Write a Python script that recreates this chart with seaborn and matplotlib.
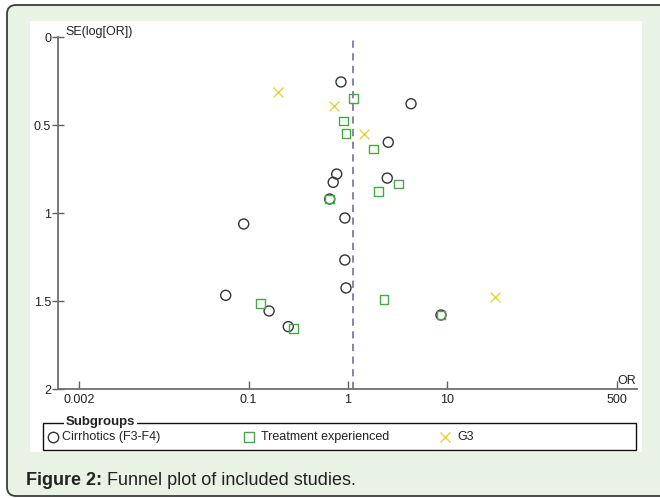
import pandas as pd
import matplotlib.pyplot as plt
from matplotlib.patches import FancyBboxPatch, Rectangle
from matplotlib.lines import Line2D
import seaborn as sb

# DATOS: OR y SE(log[OR]) por subgrupo
cirr_or = [0.85, 4.3, 2.54, 0.77, 2.48, 0.71, 0.655, 0.93, 0.0895, 0.93, 0.955, 0.059, 0.161, 0.251, 8.6]
cirr_se = [0.253, 0.377, 0.596, 0.777, 0.80, 0.824, 0.919, 1.027, 1.061, 1.266, 1.425, 1.467, 1.556, 1.645, 1.579]

treat_or = [1.14, 0.90, 0.955, 1.81, 3.23, 2.03, 0.655, 2.30, 0.133, 0.282, 8.6]
treat_se = [0.346, 0.475, 0.545, 0.634, 0.834, 0.877, 0.919, 1.49, 1.515, 1.655, 1.579]

g3_or = [0.20, 0.73, 1.45, 30]
g3_se = [0.312, 0.39, 0.549, 1.478]

pooled_or = 1.115

x_ticks = [0.002, 0.1, 1, 10, 500]
x_labels = ["0.002", "0.1", "1", "10", "500"]
y_ticks = [0, 0.5, 1, 1.5, 2]
y_labels = ["0", "0.5", "1", "1.5", "2"]

group_names = ["Cirrhotics (F3-F4)", "Treatment experienced", "G3"]
group_colors = ["#333333", "#46a846", "#e2d640"]

df = pd.concat([
    pd.DataFrame({"OR": cirr_or, "SE": cirr_se, "grupo": group_names[0]}),
    pd.DataFrame({"OR": treat_or, "SE": treat_se, "grupo": group_names[1]}),
    pd.DataFrame({"OR": g3_or, "SE": g3_se, "grupo": group_names[2]}),
])

sb.set_style("white")
plt.rcParams['font.family'] = ['Liberation Sans', 'DejaVu Sans']

fig = plt.figure(figsize=(6.6, 4.98), dpi=100)
fig.patch.set_facecolor("white")
inch = fig.dpi_scale_trans


def P(x, y):
    # pixeles (origen arriba-izquierda) -> pulgadas
    return x / 100, (498 - y) / 100


# fondo verde con borde redondeado + panel blanco
fig.add_artist(FancyBboxPatch(P(7, 496), 6.8, 4.91, boxstyle="round,pad=0,rounding_size=0.09",
                              transform=inch, fc="#e8f2e5", ec="#3c3c3c", lw=1.3, zorder=-10))
fig.add_artist(Rectangle(P(30, 452), 6.12, 4.31, transform=inch, fc="white", ec="none", zorder=-9))

# ejes
ax = fig.add_axes([58 / 660, 1 - 389 / 498, 579 / 660, 351.5 / 498])
ax.set_facecolor("none")
ax.set_xscale("log")

sb.scatterplot(data=df[df.grupo == group_names[0]], x="OR", y="SE", marker="o", s=52,
               facecolor="none", edgecolor=group_colors[0], linewidth=1, ax=ax, zorder=3)
sb.scatterplot(data=df[df.grupo == group_names[1]], x="OR", y="SE", marker="s", s=40,
               facecolor="none", edgecolor=group_colors[1], linewidth=1, ax=ax, zorder=4)
sb.scatterplot(data=df[df.grupo == group_names[2]], x="OR", y="SE", marker="x", s=50,
               color=group_colors[2], linewidth=1, ax=ax, zorder=4)

ax.axvline(pooled_or, color="#7c7ca0", ls=(0, (4, 3)), lw=1.3, zorder=2)

ax.set_xlim(0.001217, 803)
ax.set_ylim(2, 0)
ax.set_xticks(x_ticks)
ax.set_xticklabels(x_labels)
ax.set_yticks(y_ticks)
ax.set_yticklabels(y_labels)
ax.minorticks_off()
ax.set_xlabel("")
ax.set_ylabel("")
ax.tick_params(axis="x", bottom=True, direction="in", length=6, width=1, color="#606060",
               labelsize=9, labelcolor="#222222", pad=3.5)
ax.tick_params(axis="y", left=True, direction="inout", length=8, width=1, color="#606060",
               labelsize=9, labelcolor="#222222", pad=1)
for s in ["top", "right"]:
    ax.spines[s].set_visible(False)
for s in ["left", "bottom"]:
    ax.spines[s].set_color("#707070")
    ax.spines[s].set_linewidth(1.3)

fig.text(*P(65.5, 34.5), "SE(log[OR])", transform=inch, fontsize=9, color="#222222",
         ha="left", va="baseline")
fig.text(*P(636, 384), "OR", transform=inch, fontsize=9, color="#222222",
         ha="right", va="baseline")

# leyenda
fig.add_artist(Rectangle(P(43, 450), 5.93, 0.27, transform=inch, fc="none", ec="#111111", lw=1))
fig.text(*P(66, 422), "Subgroups", transform=inch, fontsize=9.5, fontweight="bold",
         color="#222222", ha="left", va="center",
         bbox=dict(fc="white", ec="none", pad=1.5))
leg_y = 437
for (mx, tx), mk, col, name in zip([(53, 62), (248.5, 261), (445, 457)], ["o", "s", "x"],
                                    group_colors, group_names):
    fig.add_artist(Line2D([mx / 100], [(498 - leg_y) / 100], transform=inch, marker=mk,
                          ls="none", mfc="none", mec=col, ms=7.5 if mk != "s" else 7, mew=1))
    fig.text(*P(tx, leg_y), name, transform=inch, fontsize=9, color="#222222",
             ha="left", va="center")

# pie de figura
t1 = fig.text(*P(26, 485), "Figure 2:", transform=inch, fontsize=13, fontweight="bold",
              color="#222222", ha="left", va="baseline")
fig.canvas.draw()
bb = t1.get_window_extent()
fig.text(bb.x1 / 100, (498 - 485) / 100, " Funnel plot of included studies.", transform=inch,
         fontsize=13, color="#222222", ha="left", va="baseline")

plt.savefig("out.png", dpi=100)
